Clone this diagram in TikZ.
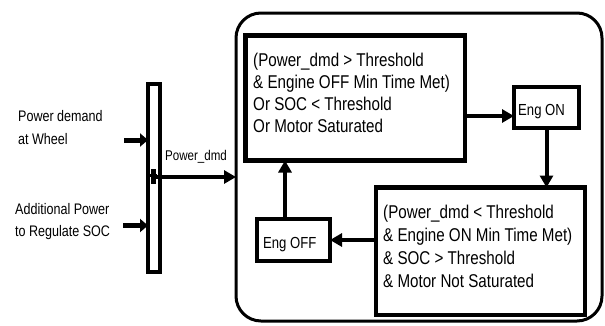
\documentclass[tikz,border=0pt]{standalone}
\usepackage{fontspec}
\setmainfont{Liberation Sans}[FakeStretch=0.82]
\usetikzlibrary{arrows.meta}
\begin{document}
\begin{tikzpicture}[x=1pt,y=-1pt,
  box/.style={draw, line width=4.5pt, inner sep=0pt, outer sep=0pt},
  arr/.style={line width=4pt, -{Triangle[length=12pt,width=13pt]}},
  sarr/.style={line width=5pt, -{Triangle[length=8pt,width=13pt]}},
  bigtxt/.style={inner sep=0pt, anchor=base west, font=\fontsize{18.5}{22}\selectfont},
  midtxt/.style={inner sep=0pt, anchor=base west, font=\fontsize{16}{19}\selectfont},
  smtxt/.style={inner sep=0pt, anchor=base west, font=\fontsize{15.3}{18}\selectfont}]
\useasboundingbox (0,0) rectangle (605,325);
% outer rounded frame
\node[draw, line width=3pt, rounded corners=25pt, minimum width=366pt, minimum height=308pt, inner sep=0pt, outer sep=0pt] (outer) at (419,167) {};
% boxes
\node[box, minimum width=219.5pt, minimum height=125pt] (tl) at (355.25,98) {};
\node[box, minimum width=65pt, minimum height=41pt] (engon) at (546.5,107.5) {};
\node[box, minimum width=209pt, minimum height=127.5pt] (br) at (480.5,251.25) {};
\node[box, minimum width=73pt, minimum height=42pt] (engoff) at (293.5,240) {};
% texts
\node[bigtxt] (tltext) at (253,66) {\begin{tabular}[t]{@{}l@{}}(Power\_dmd > Threshold\\ \& Engine OFF Min Time Met)\\ Or SOC < Threshold\\ Or Motor Saturated\end{tabular}};
\node[bigtxt, font=\fontsize{18.5}{23}\selectfont] (brtext) at (383,218) {\begin{tabular}[t]{@{}l@{}}(Power\_dmd < Threshold\\ \& Engine ON Min Time Met)\\ \& SOC > Threshold\\ \& Motor Not Saturated\end{tabular}};
\node[midtxt] (engontext) at (518,115) {Eng ON};
\node[midtxt] (engofftext) at (263,248) {Eng OFF};
% connectors in frame
\coordinate (ya) at (0,116);
\coordinate (xb) at (285,0);
\draw[arr] (tl.east |- ya) -- (engon.west |- ya);
\draw[arr] (engon.south) -- (br.north -| engon.south);
\draw[arr] (br.west |- engoff.east) -- (engoff.east);
\draw[arr] (engoff.north -| xb) -- (tl.south -| xb);
% left mux bar
\node[draw, line width=4pt, minimum width=12pt, minimum height=188pt, inner sep=0pt, outer sep=0pt] (bar) at (154,178) {};
\node[fill, minimum width=4.5pt, minimum height=15pt, inner sep=0pt] (sum) at (153.5,176) {};
\node[fill, minimum width=7pt, minimum height=3pt, inner sep=0pt] (sumh) at (153.5,175) {};
\coordinate (in1) at (124,140);
\coordinate (in2) at (123,225.5);
\draw[sarr] (in1) -- (bar.west |- in1);
\draw[sarr] (in2) -- (bar.west |- in2);
\coordinate (yo) at (0,177);
\draw[arr] (sum.east |- yo) -- (outer.west |- yo);
% labels
\node[smtxt, font=\fontsize{14.1}{17}\selectfont] (pdmd) at (165,160) {Power\_dmd};
\node[smtxt] (l1) at (18,121.7) {Power demand};
\node[smtxt] (l2) at (18,144) {at Wheel};
\node[smtxt] (l3) at (15,214) {Additional Power};
\node[smtxt] (l4) at (15,236) {to Regulate SOC};
\end{tikzpicture}
\end{document}
